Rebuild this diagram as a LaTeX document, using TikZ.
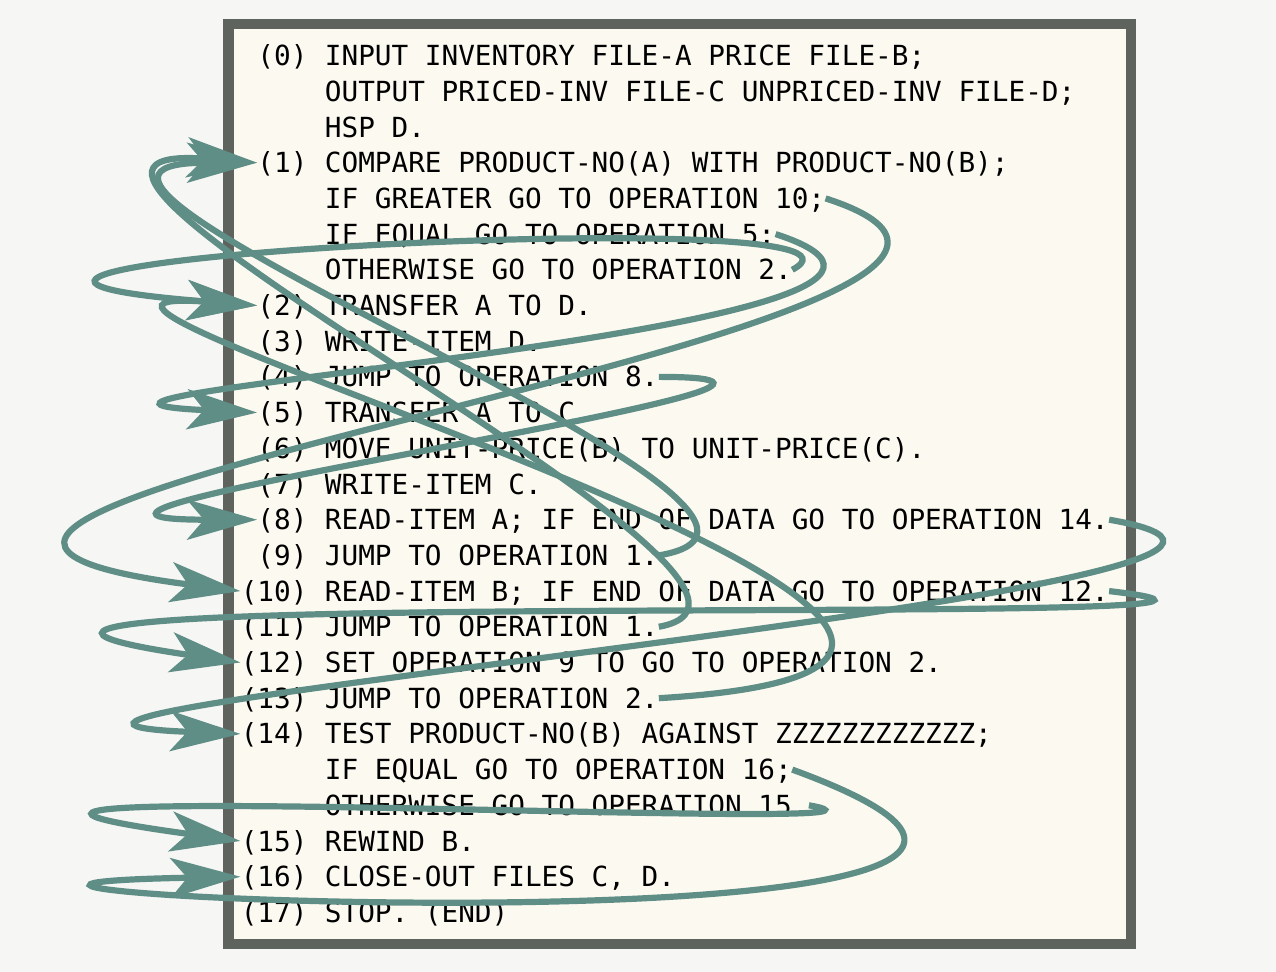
\documentclass[tikz,border=0pt]{standalone}
\usepackage{fontspec}
\setmonofont{DejaVu Sans Mono}
\usetikzlibrary{arrows.meta}
\definecolor{bgcol}{HTML}{F6F6F4}
\definecolor{papercol}{HTML}{FCFAF0}
\definecolor{rimcol}{HTML}{5E645D}
\definecolor{jumpcol}{HTML}{5F8E86}

\begin{document}
\begin{tikzpicture}[x=0.5pt, y=-0.5pt,
    listbox/.style={draw=rimcol, line width=5.2pt, fill=papercol},
    stmt/.style={anchor=base west, inner sep=0pt, text height=10.1pt, text depth=0pt,
      font=\ttfamily\fontsize{13.85pt}{16pt}\selectfont\frenchspacing},
    opno/.style={stmt, anchor=base east},
    jump/.style={draw=jumpcol, line width=3.1pt,
      -{Stealth[length=35pt, width=20pt, inset=8.5pt]}}]
      \path[use as bounding box, fill=bgcol] (0, 0) rectangle (1276, 972);
      \draw[listbox] (228.5, 24) rectangle (1131, 944);
      \node[opno] (n0) at (307.9, 65.7) {(0)};
      \node[stmt] (t0) at (324.5, 65.7) {INPUT INVENTORY FILE-A PRICE FILE-B;};
      \node[stmt] (t1) at (324.5, 101.4) {OUTPUT PRICED-INV FILE-C UNPRICED-INV FILE-D;};
      \node[stmt] (t2) at (324.5, 137.1) {HSP D.};
      \node[opno] (n1) at (307.9, 172.8) {(1)};
      \node[stmt] (t3) at (324.5, 172.8) {COMPARE PRODUCT-NO(A) WITH PRODUCT-NO(B);};
      \node[stmt] (t4) at (324.5, 208.5) {IF GREATER GO TO OPERATION 10;};
      \node[stmt] (t5) at (324.5, 244.2) {IF EQUAL GO TO OPERATION 5;};
      \node[stmt] (t6) at (324.5, 279.9) {OTHERWISE GO TO OPERATION 2.};
      \node[opno] (n2) at (307.9, 315.6) {(2)};
      \node[stmt] (t7) at (324.5, 315.6) {TRANSFER A TO D.};
      \node[opno] (n3) at (307.9, 351.3) {(3)};
      \node[stmt] (t8) at (324.5, 351.3) {WRITE-ITEM D.};
      \node[opno] (n4) at (307.9, 387.0) {(4)};
      \node[stmt] (t9) at (324.5, 387.0) {JUMP TO OPERATION 8.};
      \node[opno] (n5) at (307.9, 422.7) {(5)};
      \node[stmt] (t10) at (324.5, 422.7) {TRANSFER A TO C.};
      \node[opno] (n6) at (307.9, 458.4) {(6)};
      \node[stmt] (t11) at (324.5, 458.4) {MOVE UNIT-PRICE(B) TO UNIT-PRICE(C).};
      \node[opno] (n7) at (307.9, 494.1) {(7)};
      \node[stmt] (t12) at (324.5, 494.1) {WRITE-ITEM C.};
      \node[opno] (n8) at (307.9, 529.8) {(8)};
      \node[stmt] (t13) at (324.5, 529.8) {READ-ITEM A; IF END OF DATA GO TO OPERATION 14.};
      \node[opno] (n9) at (307.9, 565.5) {(9)};
      \node[stmt] (t14) at (324.5, 565.5) {JUMP TO OPERATION 1.};
      \node[opno] (n10) at (307.9, 601.2) {(10)};
      \node[stmt] (t15) at (324.5, 601.2) {READ-ITEM B; IF END OF DATA GO TO OPERATION 12.};
      \node[opno] (n11) at (307.9, 636.9) {(11)};
      \node[stmt] (t16) at (324.5, 636.9) {JUMP TO OPERATION 1.};
      \node[opno] (n12) at (307.9, 672.6) {(12)};
      \node[stmt] (t17) at (324.5, 672.6) {SET OPERATION 9 TO GO TO OPERATION 2.};
      \node[opno] (n13) at (307.9, 708.3) {(13)};
      \node[stmt] (t18) at (324.5, 708.3) {JUMP TO OPERATION 2.};
      \node[opno] (n14) at (307.9, 744.0) {(14)};
      \node[stmt] (t19) at (324.5, 744.0) {TEST PRODUCT-NO(B) AGAINST ZZZZZZZZZZZZ;};
      \node[stmt] (t20) at (324.5, 779.7) {IF EQUAL GO TO OPERATION 16;};
      \node[stmt] (t21) at (324.5, 815.4) {OTHERWISE GO TO OPERATION 15.};
      \node[opno] (n15) at (307.9, 851.1) {(15)};
      \node[stmt] (t22) at (324.5, 851.1) {REWIND B.};
      \node[opno] (n16) at (307.9, 886.8) {(16)};
      \node[stmt] (t23) at (324.5, 886.8) {CLOSE-OUT FILES C, D.};
      \node[opno] (n17) at (307.9, 922.5) {(17)};
      \node[stmt] (t24) at (324.5, 922.5) {STOP. (END)};
      \draw[jump] (t4.east) .. controls +(390, 126) and +(-625, -80) .. (n10.west);
      \draw[jump] (t5.east) .. controls +(293, 95) and +(-340, -16) .. (n5.west);
      \draw[jump] (t6.east) .. controls +(133, -71) and +(-525, -41) .. (n2.west);
      \draw[jump] (t9.east) .. controls +(299, 0) and +(-338, 0) .. (n8.west);
      \draw[jump] (t13.east) .. controls +(371, 64) and +(-430, -17) .. (n14.west);
      \draw[jump] (t14.east) .. controls +(239, -40) and +(-322, 0) .. (n1.west);
      \draw[jump] (t15.east) .. controls +(345, 40) and +(-545, -80) .. (n12.west);
      \draw[jump] (t16.east) .. controls +(207, -38) and +(-338, -26) .. (n1.west);
      \draw[jump] (t18.east) .. controls +(650, -39) and +(-360, -27) .. (n2.west);
      \draw[jump] (t20.east) .. controls +(548, 200) and +(-565, 11) .. (n16.west);
      \draw[jump] (t21.east) .. controls +(170, 30) and +(-500, -68) .. (n15.west);
    \end{tikzpicture}
\end{document}
